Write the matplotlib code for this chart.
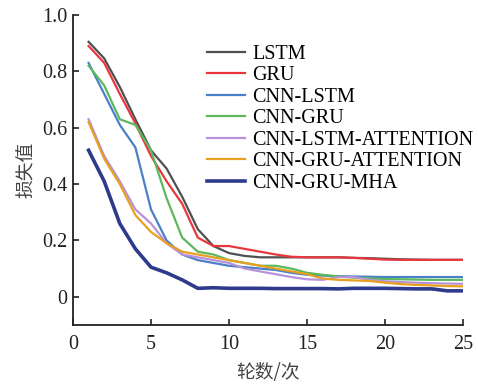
import numpy as np
import matplotlib
matplotlib.use('Agg')
import matplotlib.pyplot as plt

plt.rcParams['font.family'] = ['Liberation Serif', 'Noto Sans CJK SC']

epochs = np.arange(1, 26)

lstm = [0.905, 0.846, 0.745, 0.63, 0.52, 0.455, 0.355, 0.24, 0.18, 0.155,
        0.145, 0.14, 0.14, 0.14, 0.14, 0.14, 0.14, 0.138, 0.137, 0.135,
        0.133, 0.132, 0.131, 0.131, 0.131]
gru = [0.89, 0.83, 0.72, 0.615, 0.50, 0.41, 0.33, 0.21, 0.18, 0.18,
       0.17, 0.16, 0.15, 0.142, 0.14, 0.14, 0.14, 0.138, 0.135, 0.132,
       0.131, 0.131, 0.131, 0.131, 0.131]
cnn_lstm = [0.83, 0.72, 0.61, 0.53, 0.31, 0.20, 0.15, 0.13, 0.12, 0.11,
            0.105, 0.10, 0.095, 0.085, 0.078, 0.075, 0.073, 0.072, 0.071, 0.07,
            0.07, 0.07, 0.07, 0.07, 0.07]
cnn_gru = [0.82, 0.75, 0.63, 0.61, 0.52, 0.35, 0.21, 0.16, 0.15, 0.13,
           0.12, 0.11, 0.11, 0.10, 0.085, 0.078, 0.072, 0.068, 0.065, 0.063,
           0.062, 0.061, 0.06, 0.06, 0.06]
cnn_lstm_att = [0.63, 0.50, 0.41, 0.31, 0.26, 0.19, 0.15, 0.14, 0.13, 0.12,
                0.10, 0.09, 0.08, 0.07, 0.062, 0.06, 0.07, 0.07, 0.06, 0.055,
                0.052, 0.05, 0.048, 0.047, 0.046]
cnn_gru_att = [0.62, 0.49, 0.40, 0.29, 0.23, 0.19, 0.16, 0.15, 0.14, 0.13,
               0.12, 0.11, 0.10, 0.09, 0.08, 0.065, 0.06, 0.058, 0.056, 0.05,
               0.045, 0.042, 0.04, 0.038, 0.037]
cnn_gru_mha = [0.52, 0.41, 0.26, 0.17, 0.105, 0.085, 0.06, 0.03, 0.032, 0.03,
               0.03, 0.03, 0.029, 0.029, 0.029, 0.029, 0.028, 0.03, 0.03, 0.03,
               0.029, 0.028, 0.028, 0.021, 0.021]

labels = ['LSTM', 'GRU', 'CNN-LSTM', 'CNN-GRU', 'CNN-LSTM-ATTENTION',
          'CNN-GRU-ATTENTION', 'CNN-GRU-MHA']
colors = ['#505050', '#e8383d', '#4a80c8', '#5cb85c', '#b792d8', '#e8a020', '#2e3a8c']
widths = [1.6, 1.6, 1.6, 1.6, 1.6, 1.6, 2.6]
series = [lstm, gru, cnn_lstm, cnn_gru, cnn_lstm_att, cnn_gru_att, cnn_gru_mha]

fig = plt.figure(figsize=(4.78, 3.85), dpi=100)
ax = fig.add_axes([0.1527, 0.156, 0.8159, 0.805])

for s, lab, c, w in zip(series, labels, colors, widths):
    ax.plot(epochs, s, color=c, lw=w, label=lab)

ax.set_xlim(0, 25)
ax.set_ylim(-0.1, 1.0)
ax.set_xticks([0, 5, 10, 15, 20, 25])
ax.set_yticks([0, 0.2, 0.4, 0.6, 0.8, 1.0])
ax.set_yticklabels(['0', '0.2', '0.4', '0.6', '0.8', '1.0'])
ax.tick_params(direction='in', length=4, width=1.2, labelsize=14.5, colors='#222222')
ax.tick_params(axis='x', pad=7)
ax.tick_params(axis='y', pad=4)
for sp in ['top', 'right']:
    ax.spines[sp].set_visible(False)
for sp in ['left', 'bottom']:
    ax.spines[sp].set_linewidth(1.3)
    ax.spines[sp].set_color('#222222')

ax.set_xlabel('轮数/次', fontsize=13.5, family=['Noto Sans CJK SC'], color='#444444', labelpad=6)
ax.set_ylabel('损失值', fontsize=13.5, family=['Noto Sans CJK SC'], color='#444444', labelpad=4)

ax.legend(loc='upper left', bbox_to_anchor=(0.343, 0.905), frameon=False, fontsize=14.5,
          handlelength=1.9, handletextpad=0.35, labelspacing=0.12, borderaxespad=0,
          borderpad=0)

fig.savefig('out.png', dpi=100)
